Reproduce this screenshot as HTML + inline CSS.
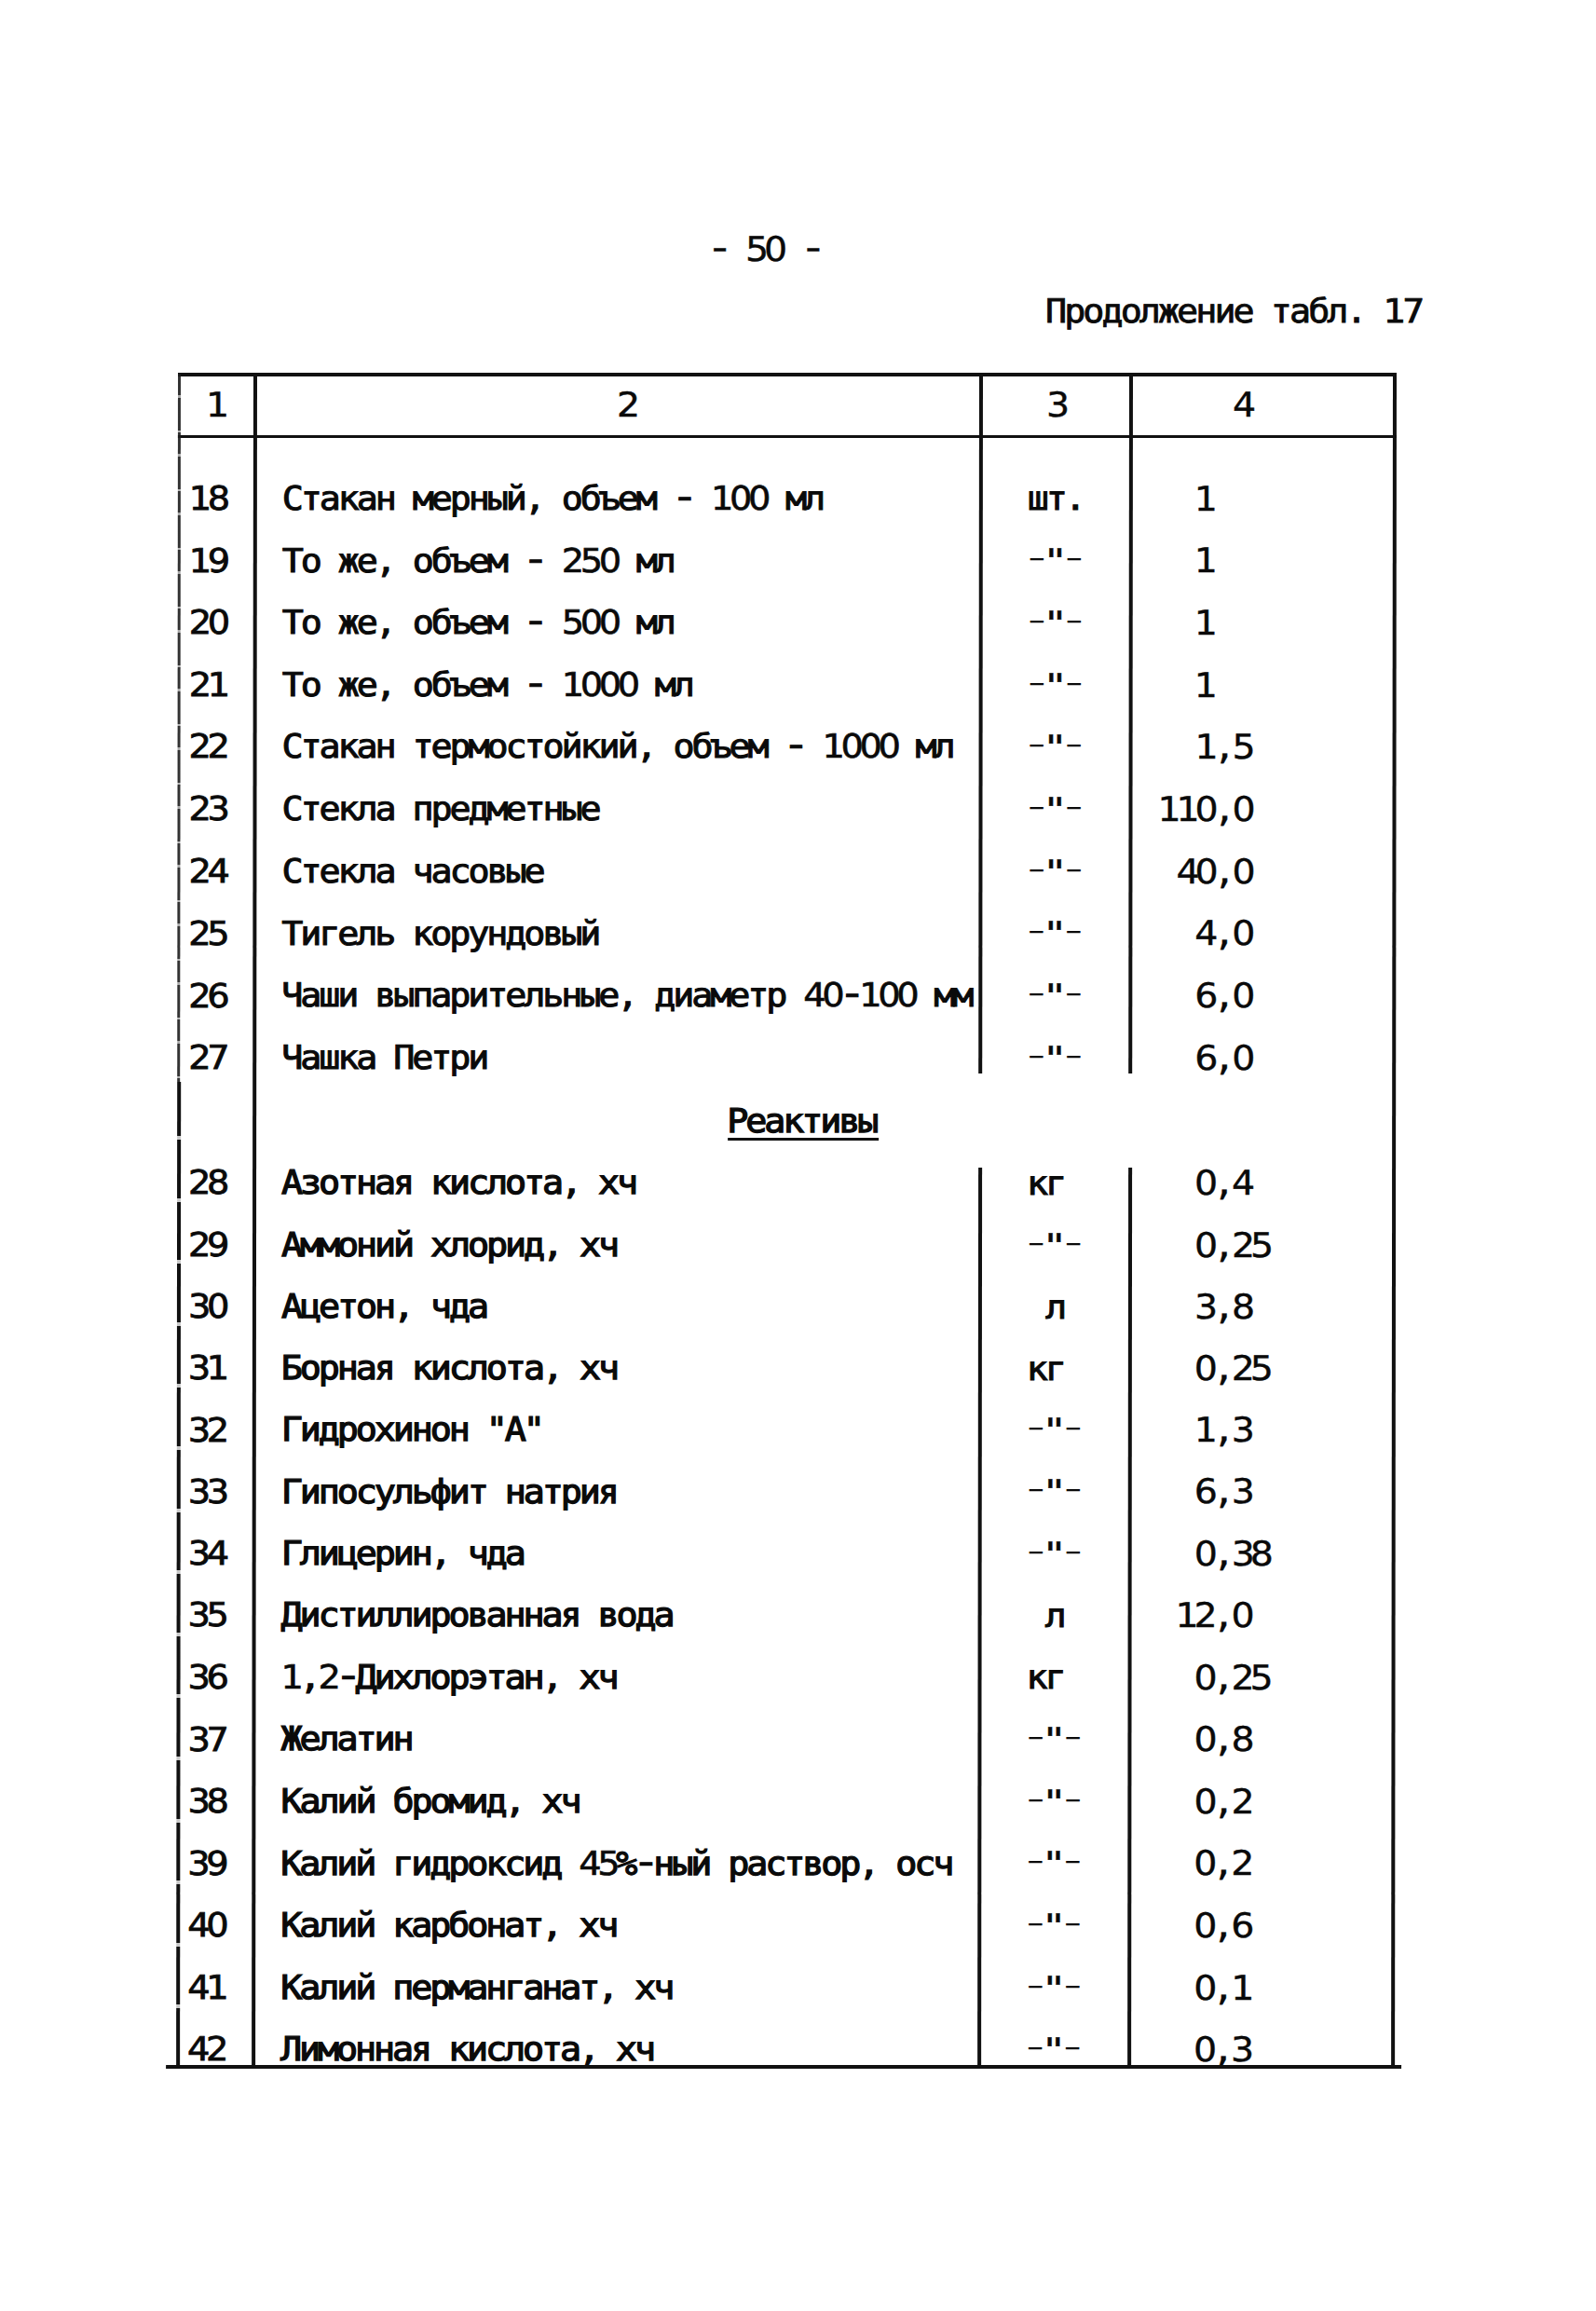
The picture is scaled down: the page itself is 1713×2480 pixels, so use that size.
<!DOCTYPE html>
<html lang="ru"><head><meta charset="utf-8"><title>Продолжение табл. 17</title>
<style>
html,body{margin:0;padding:0;background:#fff;}
body{width:1713px;height:2480px;position:relative;overflow:hidden;}
#pg{position:absolute;left:0;top:0;width:1713px;height:2480px;transform-origin:0 402px;transform:skewX(-0.06deg);}
.t{position:absolute;white-space:pre;font-family:"DejaVu Sans Mono", "Liberation Mono", monospace;font-weight:normal;line-height:44px;height:44px;color:#0a0a0a;
transform-origin:0 0;transform:scaleX(1.08);}
.b{font-size:35.5px;letter-spacing:-2.854px;-webkit-text-stroke:1.0px #0a0a0a;}
.b .n{letter-spacing:-4.068px;}
.hv{font-size:35.5px;letter-spacing:-2.854px;-webkit-text-stroke:1.25px #0a0a0a;}
.hv .n{letter-spacing:-4.068px;}
.p{font-size:35.5px;letter-spacing:-2.715px;-webkit-text-stroke:0.8px #0a0a0a;}
.p .n{letter-spacing:-3.929px;}
.m{font-size:36.5px;letter-spacing:-3.456px;-webkit-text-stroke:0.5px #0a0a0a;}
.m .n{letter-spacing:-4.704px;}
.g{font-size:36.6px;letter-spacing:-3.517px;-webkit-text-stroke:0.4px #0a0a0a;}
.g .n{letter-spacing:-4.768px;}
.u3{font-size:35.5px;letter-spacing:-2.854px;-webkit-text-stroke:1.0px #0a0a0a;}
.u3 .n{letter-spacing:-4.068px;}
.c1{font-size:35.5px;letter-spacing:-2.854px;-webkit-text-stroke:0.8px #0a0a0a;}
.c1 .n{letter-spacing:-4.068px;}
.dt{font-size:35.5px;transform:none;letter-spacing:0;-webkit-text-stroke:0;}
.d,.q{display:inline-block;width:20px;text-align:center;}
.d{transform:translateY(-3.5px) scale(1.6,0.8);}
.q{transform:scaleX(1.3);-webkit-text-stroke:0.3px #0a0a0a;}
.h{display:inline-block;transform:translateY(-2px) scaleX(1.25);}
.n{font-family:"DejaVu Sans","Liberation Sans",sans-serif;line-height:0;}
.b .n,.hv .n{-webkit-text-stroke:0.6px #0a0a0a;}
.l{position:absolute;background:#111;}
.lb{background:repeating-linear-gradient(180deg,#1c1c1c 0,#1c1c1c 23px,rgba(40,40,40,.45) 23px,rgba(40,40,40,.45) 26px,#1c1c1c 26px,#1c1c1c 61px,rgba(40,40,40,.4) 61px,rgba(40,40,40,.4) 63px);opacity:.9;}
.lb2{background:repeating-linear-gradient(180deg,#111 0,#111 58px,rgba(40,40,40,.25) 58px,rgba(40,40,40,.25) 62px,#111 62px,#111 66.6px);}
</style></head>
<body>
<div id="pg">
<div class="t g" style="left:760.0px;top:246.4px"><span class="h">-</span> <span class="n">50</span> <span class="h">-</span></div>
<div class="t p" style="left:1122.0px;top:311.7px">Продолжение табл. <span class="n">17</span></div>
<div class="t m" style="left:220.5px;top:412.9px"><span class="n">1</span></div>
<div class="t m" style="left:661.5px;top:412.9px"><span class="n">2</span></div>
<div class="t g" style="left:1123.0px;top:412.8px"><span class="n">3</span></div>
<div class="t g" style="left:1323.0px;top:412.8px"><span class="n">4</span></div>
<div class="t c1" style="left:203.0px;top:513.0px"><span class="n">18</span></div>
<div class="t b" style="left:303.0px;top:512.9px">Стакан мерный, объем <span class="h">-</span> <span class="n">100</span> мл</div>
<div class="t u3" style="left:1103.0px;top:513.4px">шт.</div>
<div class="t g" style="left:1281.5px;top:513.7px"><span class="n">1</span></div>
<div class="t c1" style="left:203.0px;top:579.6px"><span class="n">19</span></div>
<div class="t b" style="left:303.0px;top:579.5px">То же, объем <span class="h">-</span> <span class="n">250</span> мл</div>
<div class="t dt" style="left:1102.0px;top:580.3px"><span class="d">-</span><span class="q">&quot;</span><span class="d">-</span></div>
<div class="t g" style="left:1281.5px;top:580.3px"><span class="n">1</span></div>
<div class="t c1" style="left:203.0px;top:646.1px"><span class="n">20</span></div>
<div class="t b" style="left:303.0px;top:646.1px">То же, объем <span class="h">-</span> <span class="n">500</span> мл</div>
<div class="t dt" style="left:1102.0px;top:646.9px"><span class="d">-</span><span class="q">&quot;</span><span class="d">-</span></div>
<div class="t g" style="left:1281.5px;top:646.9px"><span class="n">1</span></div>
<div class="t c1" style="left:203.0px;top:712.7px"><span class="n">21</span></div>
<div class="t b" style="left:303.0px;top:712.7px">То же, объем <span class="h">-</span> <span class="n">1000</span> мл</div>
<div class="t dt" style="left:1102.0px;top:713.5px"><span class="d">-</span><span class="q">&quot;</span><span class="d">-</span></div>
<div class="t g" style="left:1281.5px;top:713.5px"><span class="n">1</span></div>
<div class="t c1" style="left:203.0px;top:779.3px"><span class="n">22</span></div>
<div class="t b" style="left:303.0px;top:779.2px">Стакан термостойкий, объем <span class="h">-</span> <span class="n">1000</span> мл</div>
<div class="t dt" style="left:1102.0px;top:780.0px"><span class="d">-</span><span class="q">&quot;</span><span class="d">-</span></div>
<div class="t g" style="left:1283.0px;top:780.0px"><span class="n">1</span>,<span class="n">5</span></div>
<div class="t c1" style="left:203.0px;top:846.1px"><span class="n">23</span></div>
<div class="t b" style="left:303.0px;top:846.0px">Стекла предметные</div>
<div class="t dt" style="left:1102.0px;top:846.8px"><span class="d">-</span><span class="q">&quot;</span><span class="d">-</span></div>
<div class="t g" style="left:1243.0px;top:846.8px"><span class="n">110</span>,<span class="n">0</span></div>
<div class="t c1" style="left:203.0px;top:912.9px"><span class="n">24</span></div>
<div class="t b" style="left:303.0px;top:912.8px">Стекла часовые</div>
<div class="t dt" style="left:1102.0px;top:913.6px"><span class="d">-</span><span class="q">&quot;</span><span class="d">-</span></div>
<div class="t g" style="left:1263.0px;top:913.6px"><span class="n">40</span>,<span class="n">0</span></div>
<div class="t c1" style="left:203.0px;top:979.7px"><span class="n">25</span></div>
<div class="t b" style="left:303.0px;top:979.6px">Тигель корундовый</div>
<div class="t dt" style="left:1102.0px;top:980.4px"><span class="d">-</span><span class="q">&quot;</span><span class="d">-</span></div>
<div class="t g" style="left:1283.0px;top:980.4px"><span class="n">4</span>,<span class="n">0</span></div>
<div class="t c1" style="left:203.0px;top:1046.5px"><span class="n">26</span></div>
<div class="t b" style="left:303.0px;top:1046.4px">Чаши выпарительные, диаметр <span class="n">40</span><span class="h">-</span><span class="n">100</span> мм</div>
<div class="t dt" style="left:1102.0px;top:1047.2px"><span class="d">-</span><span class="q">&quot;</span><span class="d">-</span></div>
<div class="t g" style="left:1283.0px;top:1047.2px"><span class="n">6</span>,<span class="n">0</span></div>
<div class="t c1" style="left:203.0px;top:1113.3px"><span class="n">27</span></div>
<div class="t b" style="left:303.0px;top:1113.2px">Чашка Петри</div>
<div class="t dt" style="left:1102.0px;top:1114.0px"><span class="d">-</span><span class="q">&quot;</span><span class="d">-</span></div>
<div class="t g" style="left:1283.0px;top:1114.0px"><span class="n">6</span>,<span class="n">0</span></div>
<div class="t hv" style="left:781.0px;top:1181.2px">Реактивы</div>
<div class="l" style="left:781.5px;top:1220.6px;width:162.5px;height:3.4px"></div>
<div class="t c1" style="left:203.0px;top:1247.4px"><span class="n">28</span></div>
<div class="t hv" style="left:303.0px;top:1247.2px">Азотная кислота, хч</div>
<div class="t u3" style="left:1103.0px;top:1247.8px">кг</div>
<div class="t g" style="left:1283.0px;top:1248.1px"><span class="n">0</span>,<span class="n">4</span></div>
<div class="t c1" style="left:203.0px;top:1313.7px"><span class="n">29</span></div>
<div class="t hv" style="left:303.0px;top:1313.6px">Аммоний хлорид, хч</div>
<div class="t dt" style="left:1102.0px;top:1314.5px"><span class="d">-</span><span class="q">&quot;</span><span class="d">-</span></div>
<div class="t g" style="left:1283.0px;top:1314.5px"><span class="n">0</span>,<span class="n">25</span></div>
<div class="t c1" style="left:203.0px;top:1380.1px"><span class="n">30</span></div>
<div class="t hv" style="left:303.0px;top:1380.0px">Ацетон, чда</div>
<div class="t u3" style="left:1123.0px;top:1380.6px">л</div>
<div class="t g" style="left:1283.0px;top:1380.9px"><span class="n">3</span>,<span class="n">8</span></div>
<div class="t c1" style="left:203.0px;top:1446.3px"><span class="n">31</span></div>
<div class="t hv" style="left:303.0px;top:1446.2px">Борная кислота, хч</div>
<div class="t u3" style="left:1103.0px;top:1446.7px">кг</div>
<div class="t g" style="left:1283.0px;top:1447.0px"><span class="n">0</span>,<span class="n">25</span></div>
<div class="t c1" style="left:203.0px;top:1512.5px"><span class="n">32</span></div>
<div class="t hv" style="left:303.0px;top:1512.3px">Гидрохинон &quot;А&quot;</div>
<div class="t dt" style="left:1102.0px;top:1513.2px"><span class="d">-</span><span class="q">&quot;</span><span class="d">-</span></div>
<div class="t g" style="left:1283.0px;top:1513.2px"><span class="n">1</span>,<span class="n">3</span></div>
<div class="t c1" style="left:203.0px;top:1578.7px"><span class="n">33</span></div>
<div class="t hv" style="left:303.0px;top:1578.5px">Гипосульфит натрия</div>
<div class="t dt" style="left:1102.0px;top:1579.4px"><span class="d">-</span><span class="q">&quot;</span><span class="d">-</span></div>
<div class="t g" style="left:1283.0px;top:1579.4px"><span class="n">6</span>,<span class="n">3</span></div>
<div class="t c1" style="left:203.0px;top:1644.8px"><span class="n">34</span></div>
<div class="t hv" style="left:303.0px;top:1644.7px">Глицерин, чда</div>
<div class="t dt" style="left:1102.0px;top:1645.6px"><span class="d">-</span><span class="q">&quot;</span><span class="d">-</span></div>
<div class="t g" style="left:1283.0px;top:1645.6px"><span class="n">0</span>,<span class="n">38</span></div>
<div class="t c1" style="left:203.0px;top:1711.4px"><span class="n">35</span></div>
<div class="t hv" style="left:303.0px;top:1711.3px">Дистиллированная вода</div>
<div class="t u3" style="left:1123.0px;top:1711.8px">л</div>
<div class="t g" style="left:1263.0px;top:1712.1px"><span class="n">12</span>,<span class="n">0</span></div>
<div class="t c1" style="left:203.0px;top:1778.0px"><span class="n">36</span></div>
<div class="t hv" style="left:303.0px;top:1777.8px"><span class="n">1</span>,<span class="n">2</span><span class="h">-</span>Дихлорэтан, хч</div>
<div class="t u3" style="left:1103.0px;top:1778.4px">кг</div>
<div class="t g" style="left:1283.0px;top:1778.7px"><span class="n">0</span>,<span class="n">25</span></div>
<div class="t c1" style="left:203.0px;top:1844.5px"><span class="n">37</span></div>
<div class="t hv" style="left:303.0px;top:1844.4px">Желатин</div>
<div class="t dt" style="left:1102.0px;top:1845.3px"><span class="d">-</span><span class="q">&quot;</span><span class="d">-</span></div>
<div class="t g" style="left:1283.0px;top:1845.3px"><span class="n">0</span>,<span class="n">8</span></div>
<div class="t c1" style="left:203.0px;top:1911.1px"><span class="n">38</span></div>
<div class="t hv" style="left:303.0px;top:1911.0px">Калий бромид, хч</div>
<div class="t dt" style="left:1102.0px;top:1911.8px"><span class="d">-</span><span class="q">&quot;</span><span class="d">-</span></div>
<div class="t g" style="left:1283.0px;top:1911.8px"><span class="n">0</span>,<span class="n">2</span></div>
<div class="t c1" style="left:203.0px;top:1977.7px"><span class="n">39</span></div>
<div class="t hv" style="left:303.0px;top:1977.5px">Калий гидроксид <span class="n">45</span>%<span class="h">-</span>ный раствор, осч</div>
<div class="t dt" style="left:1102.0px;top:1978.4px"><span class="d">-</span><span class="q">&quot;</span><span class="d">-</span></div>
<div class="t g" style="left:1283.0px;top:1978.4px"><span class="n">0</span>,<span class="n">2</span></div>
<div class="t c1" style="left:203.0px;top:2044.2px"><span class="n">40</span></div>
<div class="t hv" style="left:303.0px;top:2044.1px">Калий карбонат, хч</div>
<div class="t dt" style="left:1102.0px;top:2045.0px"><span class="d">-</span><span class="q">&quot;</span><span class="d">-</span></div>
<div class="t g" style="left:1283.0px;top:2045.0px"><span class="n">0</span>,<span class="n">6</span></div>
<div class="t c1" style="left:203.0px;top:2110.8px"><span class="n">41</span></div>
<div class="t hv" style="left:303.0px;top:2110.7px">Калий перманганат, хч</div>
<div class="t dt" style="left:1102.0px;top:2111.5px"><span class="d">-</span><span class="q">&quot;</span><span class="d">-</span></div>
<div class="t g" style="left:1283.0px;top:2111.5px"><span class="n">0</span>,<span class="n">1</span></div>
<div class="t c1" style="left:203.0px;top:2177.4px"><span class="n">42</span></div>
<div class="t hv" style="left:303.0px;top:2177.2px">Лимонная кислота, хч</div>
<div class="t dt" style="left:1102.0px;top:2178.1px"><span class="d">-</span><span class="q">&quot;</span><span class="d">-</span></div>
<div class="t g" style="left:1283.0px;top:2178.1px"><span class="n">0</span>,<span class="n">3</span></div>
<div class="l" style="left:190.5px;top:399.5px;width:1308.0px;height:4.0px"></div>
<div class="l" style="left:191.0px;top:466.5px;width:1307.5px;height:3.0px"></div>
<div class="l" style="left:180.0px;top:2216.4px;width:1326.0px;height:3.4px"></div>
<div class="l lb" style="left:191.2px;top:401.0px;width:3.1px;height:760.0px"></div>
<div class="l lb2" style="left:190.7px;top:1161.0px;width:4.1px;height:1057.0px"></div>
<div class="l" style="left:272.0px;top:401.0px;width:4.0px;height:1817.0px"></div>
<div class="l" style="left:1050.9px;top:401.0px;width:4.0px;height:751.0px"></div>
<div class="l" style="left:1050.9px;top:1253.0px;width:4.0px;height:965.0px"></div>
<div class="l" style="left:1212.0px;top:401.0px;width:4.0px;height:751.0px"></div>
<div class="l" style="left:1212.0px;top:1253.0px;width:4.0px;height:965.0px"></div>
<div class="l" style="left:1494.7px;top:401.0px;width:4.0px;height:1817.0px"></div>
</div>
</body></html>
